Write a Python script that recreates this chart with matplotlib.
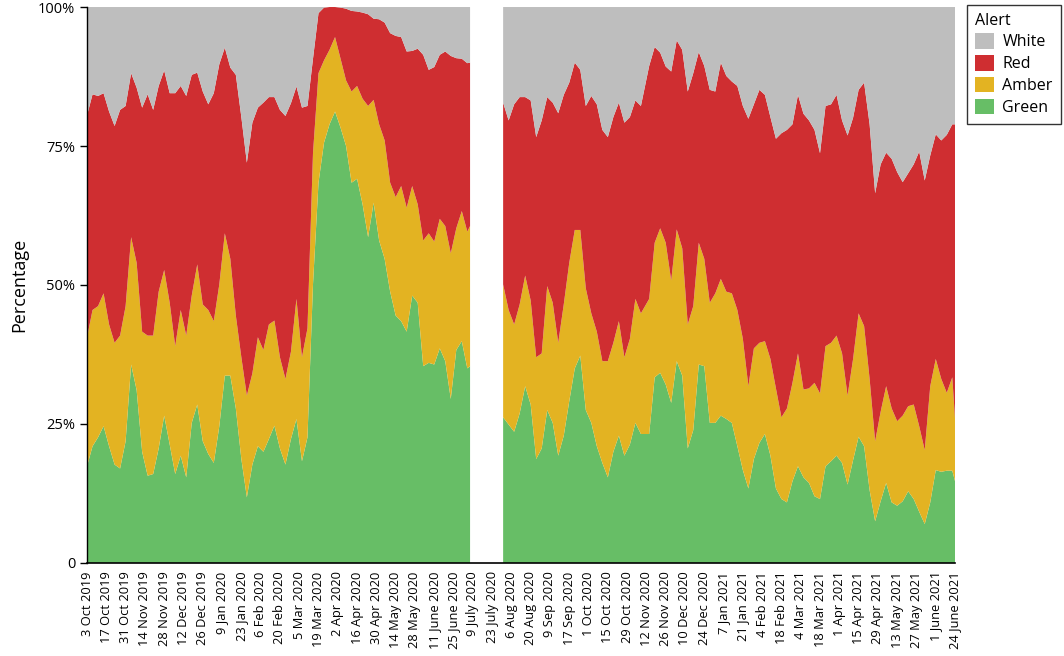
import numpy as np
import pandas as pd
import matplotlib
matplotlib.use("Agg")
import matplotlib.pyplot as plt
from matplotlib.patches import Patch

plt.rcParams['font.family'] = ['Open Sans', 'DejaVu Sans']

start = pd.Timestamp('2019-10-03')

# days since 3 Oct 2019 for each sample, two runs either side of the July 2020 gap
days1 = list(range(0, 277, 4)) + [278]
days2 = list(range(302, 403, 4)) + list(range(408, 629, 4)) + [630]

# percentage in each alert level
green1 = [17.4, 21.0, 22.6, 24.6, 21.0, 17.7, 17.0, 21.9, 35.7, 31.1, 20.0, 15.7, 16.0, 20.6,
          26.5, 21.3, 16.0, 19.3, 15.4, 25.2, 28.5, 21.9, 19.6, 18.0, 24.6, 33.7, 33.7, 27.8,
          18.7, 11.8, 17.7, 21.0, 20.0, 22.3, 24.7, 20.6, 17.7, 22.3, 25.9, 18.3, 22.6, 50.1,
          68.4, 75.6, 78.9, 81.2, 78.3, 75.0, 68.4, 69.1, 64.5, 58.6, 64.8, 58.0, 54.7, 48.8,
          44.5, 43.5, 41.6, 48.1, 46.8, 35.4, 36.0, 35.7, 38.6, 36.3, 29.5, 38.3, 39.9, 35.0,
          35.4]
amber1 = [23.2, 24.5, 23.6, 23.9, 21.9, 21.9, 23.9, 24.3, 22.9, 22.9, 21.6, 25.2, 24.9, 28.2,
          26.2, 25.5, 23.0, 26.2, 25.5, 22.9, 25.2, 24.6, 25.9, 25.5, 25.5, 25.6, 21.0, 16.7,
          18.3, 18.3, 16.4, 19.6, 18.3, 20.6, 18.9, 16.4, 15.4, 15.7, 21.6, 18.7, 19.6, 23.6,
          19.7, 14.8, 13.4, 13.4, 12.4, 11.8, 16.4, 16.7, 19.0, 23.6, 18.5, 20.9, 21.3, 19.6,
          21.3, 24.3, 22.3, 19.7, 17.7, 22.6, 23.3, 22.1, 23.3, 24.3, 26.2, 21.9, 23.4, 24.6,
          25.2]
red1 = [39.9, 38.8, 37.8, 36.0, 38.3, 39.0, 40.6, 36.0, 29.5, 31.5, 40.3, 43.4, 40.6, 37.0,
        35.9, 37.7, 45.5, 40.3, 43.1, 39.7, 34.5, 38.3, 37.0, 41.0, 39.6, 33.4, 34.4, 43.3,
        43.2, 41.9, 45.1, 41.3, 44.5, 40.9, 40.2, 44.5, 47.3, 44.7, 38.2, 44.9, 40.0, 17.0,
        10.8, 9.5, 7.7, 5.4, 9.2, 12.9, 14.5, 13.4, 15.5, 16.5, 14.6, 18.9, 21.2, 26.9,
        29.0, 26.8, 28.1, 24.3, 28.0, 33.4, 29.4, 31.4, 29.5, 31.4, 35.5, 30.6, 27.4, 30.3,
        29.4]

green2 = [26.2, 24.9, 23.6, 26.9, 31.8, 28.5, 18.7, 20.6, 27.5, 25.2, 19.3, 22.9, 29.1, 35.0,
          37.3, 27.5, 25.2, 21.0, 18.0, 15.4, 20.0, 22.9, 19.3, 21.3, 25.2, 23.2,
          23.2, 33.4, 34.2, 32.1, 28.8, 36.3, 33.7, 20.6, 23.9, 35.7, 35.4, 25.2, 25.2, 26.5,
          25.9, 25.2, 21.0, 16.7, 13.4, 18.7, 21.6, 23.2, 19.3, 13.4, 11.5, 10.9, 14.7, 17.4,
          15.4, 14.4, 12.0, 11.5, 17.4, 18.3, 19.3, 18.0, 14.1, 18.5, 22.7, 21.0, 13.1, 7.5,
          11.1, 14.4, 10.9, 10.3, 11.1, 12.9, 11.5, 9.2, 7.0, 10.9, 16.7, 16.4, 16.6, 16.6,
          14.7]
amber2 = [23.9, 20.6, 19.3, 19.6, 19.9, 18.7, 18.3, 17.1, 22.3, 21.6, 20.3, 23.6, 24.9, 24.9,
          22.6, 21.9, 19.7, 20.6, 18.3, 20.9, 19.6, 20.6, 17.7, 19.0, 22.3, 21.7,
          24.3, 24.2, 26.0, 25.5, 22.0, 23.7, 22.9, 22.3, 22.3, 21.9, 19.3, 21.6, 23.3, 24.6,
          22.9, 23.3, 24.5, 23.6, 18.4, 19.9, 18.0, 16.7, 17.4, 18.0, 14.7, 16.9, 17.7, 20.3,
          15.8, 17.0, 20.4, 19.0, 21.6, 21.3, 21.6, 19.7, 16.0, 18.2, 22.2, 21.6, 20.0, 14.4,
          16.1, 17.4, 16.9, 15.2, 15.4, 15.3, 17.0, 15.4, 13.3, 20.9, 20.0, 16.7, 14.0, 16.8,
          11.2]
red2 = [32.7, 34.1, 39.6, 37.3, 32.1, 36.0, 39.6, 41.9, 34.0, 36.0, 41.3, 37.7, 32.4, 30.1,
        28.8, 32.8, 39.1, 40.9, 41.6, 40.3, 40.6, 39.3, 42.2, 39.9, 35.7, 37.3,
        41.9, 35.2, 31.6, 31.7, 37.6, 34.0, 35.7, 41.9, 41.9, 34.3, 34.7, 38.3, 36.3, 38.9,
        38.8, 38.1, 40.3, 41.9, 48.1, 43.9, 45.5, 44.3, 43.5, 44.9, 51.1, 50.1, 46.5, 46.5,
        49.6, 48.2, 45.5, 43.2, 43.2, 42.9, 43.3, 41.9, 46.8, 43.4, 40.2, 43.8, 45.8, 44.6,
        44.5, 42.0, 44.9, 44.8, 42.0, 41.9, 43.2, 49.4, 48.5, 41.5, 40.4, 42.9, 46.4, 45.5,
        53.0]

tick_labels = ['3 Oct 2019', '17 Oct 2019', '31 Oct 2019', '14 Nov 2019', '28 Nov 2019',
               '12 Dec 2019', '26 Dec 2019', '9 Jan 2020', '23 Jan 2020', '6 Feb 2020',
               '20 Feb 2020', '5 Mar 2020', '19 Mar 2020', '2 Apr 2020', '16 Apr 2020',
               '30 Apr 2020', '14 May 2020', '28 May 2020', '11 June 2020', '25 June 2020',
               '9 July 2020', '23 July 2020', '6 Aug 2020', '20 Aug 2020', '9 Sep 2020',
               '17 Sep 2020', '1 Oct 2020', '15 Oct 2020', '29 Oct 2020', '12 Nov 2020',
               '26 Nov 2020', '10 Dec 2020', '24 Dec 2020', '7 Jan 2021', '21 Jan 2021',
               '4 Feb 2021', '18 Feb 2021', '4 Mar 2021', '18 Mar 2021', '1 Apr 2021',
               '15 Apr 2021', '29 Apr 2021', '13 May 2021', '27 May 2021', '1 June 2021',
               '24 June 2021']

levels = ['White', 'Red', 'Amber', 'Green']
colors = {'White': '#bebebe', 'Red': '#cf2e31', 'Amber': '#e3b322', 'Green': '#67be66'}

fig = plt.figure(figsize=(10.64, 6.56), dpi=100)
ax = fig.add_axes([0.0818, 0.1418, 0.8158, 0.8475])

for days, g, a, r in [(days1, green1, amber1, red1), (days2, green2, amber2, red2)]:
    x = start + pd.to_timedelta(days, unit='D')
    g, a, r = np.array(g), np.array(a), np.array(r)
    w = 100 - g - a - r
    ax.stackplot(x, g, a, r, w,
                 colors=[colors['Green'], colors['Amber'], colors['Red'], colors['White']],
                 linewidth=0)

ax.set_xlim(start, start + pd.Timedelta(days=630))
ax.set_ylim(0, 100)

ticks = pd.date_range(start, periods=len(tick_labels), freq='14D')
ax.set_xticks(ticks)
ax.set_xticklabels(tick_labels, rotation=90, fontsize=9.3)
ax.set_yticks([0, 25, 50, 75, 100])
ax.set_yticklabels(['0', '25%', '50%', '75%', '100%'], fontsize=10.5)
ax.tick_params(axis='x', length=0, pad=6)
ax.tick_params(axis='y', length=5, width=1)
ax.set_ylabel('Percentage', fontsize=13, labelpad=7)

for side in ['top', 'right']:
    ax.spines[side].set_visible(False)
ax.spines['left'].set_linewidth(1.0)
ax.spines['bottom'].set_linewidth(1.2)

handles = [Patch(facecolor=colors[k], edgecolor='none', label=k) for k in levels]
leg = fig.legend(handles=handles, title='Alert', loc='upper left',
                 bbox_to_anchor=(0.909, 0.993), borderaxespad=0,
                 fontsize=11.5, title_fontsize=11.5,
                 frameon=True, fancybox=False, edgecolor='black',
                 handlelength=1.2, handleheight=1.1, handletextpad=0.5,
                 labelspacing=0.3, borderpad=0.5)
leg.get_frame().set_linewidth(1.0)
leg._legend_box.align = 'left'

fig.savefig('out.png', dpi=100)
